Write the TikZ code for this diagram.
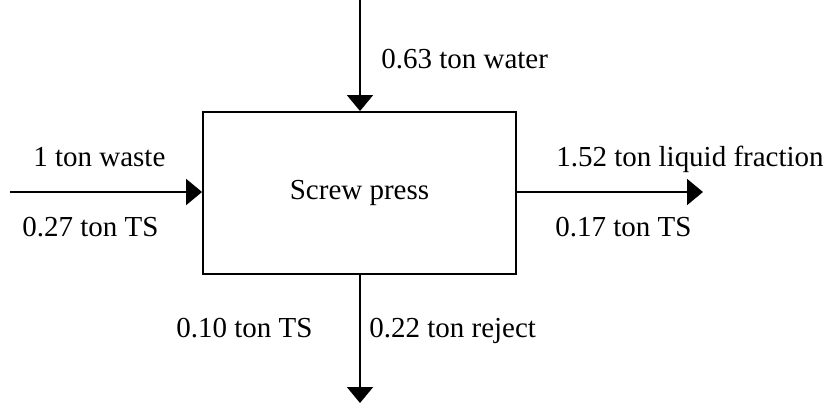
\documentclass[tikz,border=0pt]{standalone}
\usepackage{fontspec}
\setmainfont{Liberation Serif}
\usepackage{tikz}
\usetikzlibrary{arrows.meta}

\begin{document}
\begin{tikzpicture}[>={Triangle[length=0.32cm,width=0.52cm]},x=0.02cm,y=-0.02cm,
  flow/.style={->,line width=1.1pt},
  lbl/.style={anchor=base west,inner sep=0pt,font=\fontsize{16.5}{19.8}\selectfont}]
\useasboundingbox (0,0) rectangle (831,403);
\node[draw,line width=1.1pt,minimum width=6.26cm,minimum height=3.24cm,inner sep=0pt,
  font=\fontsize{16.5}{19.8}\selectfont] (press) at (359.5,193) {Screw press};
% free ends of the flows
\coordinate (win) at (360,0);
\coordinate (wastein) at (10,192);
\coordinate (liqout) at (703,192);
\coordinate (rejout) at (360,403);
\draw[flow] (win) -- (win |- press.north);
\draw[flow] (wastein) -- (press.west |- wastein);
\draw[flow] (press.east |- liqout) -- (liqout);
\draw[flow] (rejout |- press.south) -- (rejout);
% labels
\node[lbl] (water) at (381,68) {0.63 ton water};
\node[lbl] (waste) at (33,166) {1 ton waste};
\node[lbl] (tsin) at (22,236) {0.27 ton TS};
\node[lbl] (liquid) at (556,166) {1.52 ton liquid fraction};
\node[lbl] (tsliq) at (555,236) {0.17 ton TS};
\node[lbl] (tsrej) at (176,337) {0.10 ton TS};
\node[lbl] (reject) at (369,337) {0.22 ton reject};
\end{tikzpicture}
\end{document}
